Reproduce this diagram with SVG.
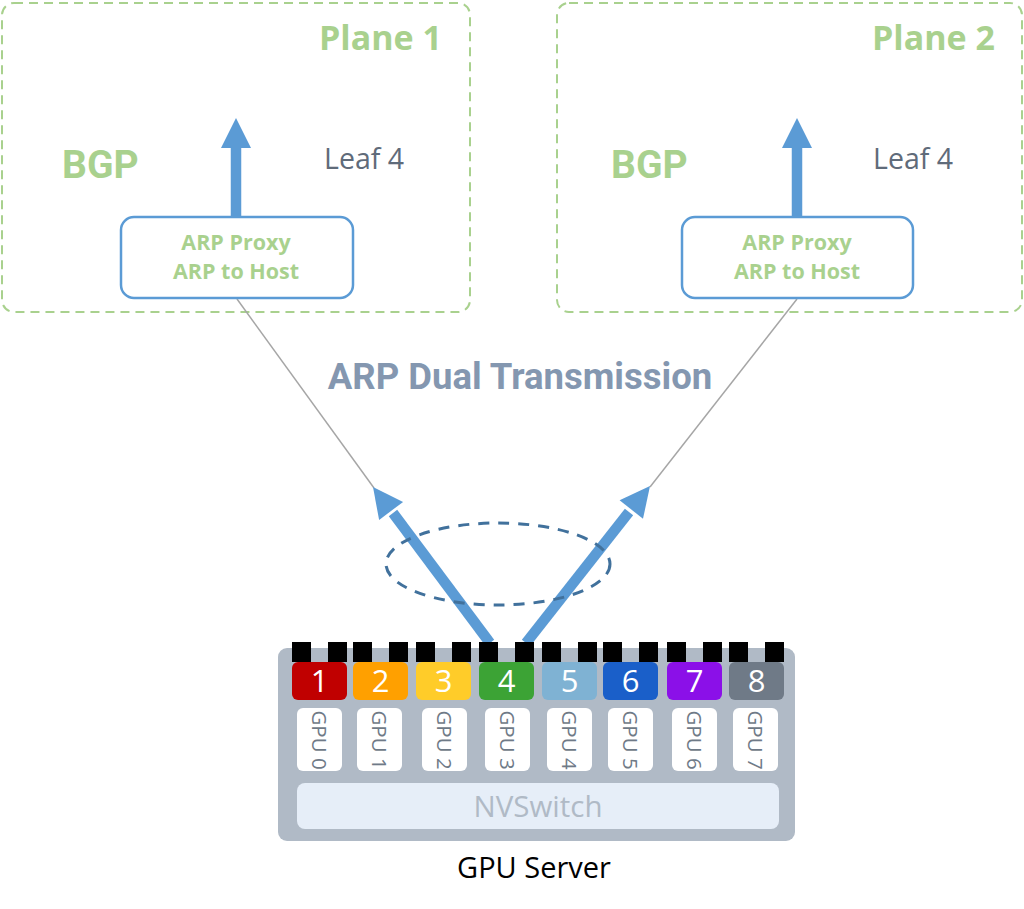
<svg xmlns="http://www.w3.org/2000/svg" width="1024" height="909" viewBox="0 0 1024 909">
<style>
.plane{fill:none;stroke:#a9d18e;stroke-width:2;stroke-dasharray:9 6}
.ptitle{font-family:"Open Sans","Liberation Sans",sans-serif;font-weight:bold;font-size:34px;fill:#a9d18e}
.bgp{font-family:Roboto,"Liberation Sans",sans-serif;font-weight:bold;font-size:39px;fill:#a9d18e}
.leaf{font-family:"Open Sans","Liberation Sans",sans-serif;font-size:28.5px;fill:#5f6b7a}
.arpbox{fill:#fff;stroke:#5b9bd5;stroke-width:2.5}
.arptxt{font-family:"Open Sans","Liberation Sans",sans-serif;font-weight:bold;font-size:21.5px;fill:#a9d18e;text-anchor:middle}
.blue{fill:#5b9bd5}
.shaft{stroke:#5b9bd5;stroke-width:10.5;fill:none}
.thin{stroke:#a6a6a6;stroke-width:1.5;fill:none}
.port{fill:#000}
.num{font-family:"Open Sans","Liberation Sans",sans-serif;font-size:31px;fill:#fff;text-anchor:middle}
.gpu{fill:#fff}
.gputxt{font-family:"Open Sans","Liberation Sans",sans-serif;font-size:20.5px;fill:#6f7a87;text-anchor:middle}
</style>
<rect width="1024" height="909" fill="#fff"/>
<g id="plane1">
<rect class="plane" x="2" y="3" width="468" height="309" rx="12"/>
<text class="ptitle" x="319" y="50">Plane 1</text>
<text class="bgp" x="62" y="178">BGP</text>
<text class="leaf" x="324" y="169">Leaf 4</text>
</g>
<g id="plane2">
<rect class="plane" x="557" y="3" width="465" height="309" rx="12"/>
<text class="ptitle" x="872" y="50">Plane 2</text>
<text class="bgp" x="611" y="178">BGP</text>
<text class="leaf" x="873" y="169">Leaf 4</text>
</g>
<g id="connectors">
<line class="thin" x1="237" y1="299" x2="374" y2="488"/>
<line class="thin" x1="797" y1="299" x2="650" y2="487"/>
<line class="shaft" x1="236" y1="216" x2="236" y2="146"/>
<polygon class="blue" points="221,148 251,148 236,118"/>
<line class="shaft" x1="797" y1="216" x2="797" y2="146"/>
<polygon class="blue" points="782,148 812,148 797,118"/>
<line class="shaft" x1="490" y1="643" x2="393" y2="513"/>
<polygon class="blue" points="373,487 403.1,501.9 379.1,519.9"/>
<line class="shaft" x1="526" y1="643" x2="629" y2="512"/>
<polygon class="blue" points="650,486 643,518.8 619.6,500.2"/>
<ellipse cx="498" cy="564" rx="112" ry="41" fill="none" stroke="#41719c" stroke-width="3" stroke-dasharray="11 9"/>
</g>
<g id="arp1">
<rect class="arpbox" x="121" y="217" width="232" height="81" rx="13"/>
<text class="arptxt" x="236" y="250">ARP Proxy</text>
<text class="arptxt" x="236" y="279">ARP to Host</text>
</g>
<g id="arp2">
<rect class="arpbox" x="682" y="217" width="231" height="81" rx="13"/>
<text class="arptxt" x="797" y="250">ARP Proxy</text>
<text class="arptxt" x="797" y="279">ARP to Host</text>
</g>
<g id="label">
<text x="520" y="389" font-family="Roboto,'Liberation Sans',sans-serif" font-weight="bold" font-size="36.5" fill="#8497b0" text-anchor="middle">ARP Dual Transmission</text>
</g>
<g id="gpu-server">
<rect x="278" y="648" width="517" height="193" rx="9" fill="#b0bac6"/>
<g class="ports">
<rect class="port" x="292" y="642" width="19" height="20"/><rect class="port" x="328" y="642" width="19" height="20"/>
<rect class="port" x="353" y="642" width="19" height="20"/><rect class="port" x="389" y="642" width="19" height="20"/>
<rect class="port" x="416" y="642" width="19" height="20"/><rect class="port" x="452" y="642" width="19" height="20"/>
<rect class="port" x="479" y="642" width="19" height="20"/><rect class="port" x="515" y="642" width="19" height="20"/>
<rect class="port" x="542" y="642" width="19" height="20"/><rect class="port" x="578" y="642" width="19" height="20"/>
<rect class="port" x="603" y="642" width="19" height="20"/><rect class="port" x="639" y="642" width="19" height="20"/>
<rect class="port" x="667" y="642" width="19" height="20"/><rect class="port" x="703" y="642" width="19" height="20"/>
<rect class="port" x="729" y="642" width="19" height="20"/><rect class="port" x="765" y="642" width="19" height="20"/>
</g>
<g id="nic1"><rect x="292" y="662" width="55" height="38" rx="6" fill="#c00000"/><text class="num" x="319.5" y="692">1</text></g>
<g id="nic2"><rect x="353" y="662" width="55" height="38" rx="6" fill="#ffa000"/><text class="num" x="380.5" y="692">2</text></g>
<g id="nic3"><rect x="416" y="662" width="55" height="38" rx="6" fill="#ffcc29"/><text class="num" x="443.5" y="692">3</text></g>
<g id="nic4"><rect x="479" y="662" width="55" height="38" rx="6" fill="#3ca335"/><text class="num" x="506.5" y="692">4</text></g>
<g id="nic5"><rect x="542" y="662" width="55" height="38" rx="6" fill="#7fb2d3"/><text class="num" x="569.5" y="692">5</text></g>
<g id="nic6"><rect x="603" y="662" width="55" height="38" rx="6" fill="#1a5fc9"/><text class="num" x="630.5" y="692">6</text></g>
<g id="nic7"><rect x="667" y="662" width="55" height="38" rx="6" fill="#8b10e8"/><text class="num" x="694.5" y="692">7</text></g>
<g id="nic8"><rect x="729" y="662" width="55" height="38" rx="6" fill="#6f7a87"/><text class="num" x="756.5" y="692">8</text></g>
<g id="gpu0"><rect class="gpu" x="297" y="708" width="45" height="63" rx="6"/><text class="gputxt" transform="translate(312,740) rotate(90)">GPU 0</text></g>
<g id="gpu1"><rect class="gpu" x="357" y="708" width="45" height="63" rx="6"/><text class="gputxt" transform="translate(372,740) rotate(90)">GPU 1</text></g>
<g id="gpu2"><rect class="gpu" x="422" y="708" width="45" height="63" rx="6"/><text class="gputxt" transform="translate(437,740) rotate(90)">GPU 2</text></g>
<g id="gpu3"><rect class="gpu" x="485" y="708" width="45" height="63" rx="6"/><text class="gputxt" transform="translate(500,740) rotate(90)">GPU 3</text></g>
<g id="gpu4"><rect class="gpu" x="547" y="708" width="45" height="63" rx="6"/><text class="gputxt" transform="translate(562,740) rotate(90)">GPU 4</text></g>
<g id="gpu5"><rect class="gpu" x="608" y="708" width="45" height="63" rx="6"/><text class="gputxt" transform="translate(623,740) rotate(90)">GPU 5</text></g>
<g id="gpu6"><rect class="gpu" x="672" y="708" width="45" height="63" rx="6"/><text class="gputxt" transform="translate(687,740) rotate(90)">GPU 6</text></g>
<g id="gpu7"><rect class="gpu" x="733" y="708" width="45" height="63" rx="6"/><text class="gputxt" transform="translate(748,740) rotate(90)">GPU 7</text></g>
<g id="nvswitch"><rect x="297" y="783" width="482" height="46" rx="8" fill="#e6eef8"/><text x="538" y="817" font-family="'Open Sans','Liberation Sans',sans-serif" font-size="29.5" fill="#b0bac6" text-anchor="middle">NVSwitch</text></g>
<text x="534" y="878" font-family="'Open Sans','Liberation Sans',sans-serif" font-size="29" fill="#000" text-anchor="middle">GPU Server</text>
</g>
</svg>
